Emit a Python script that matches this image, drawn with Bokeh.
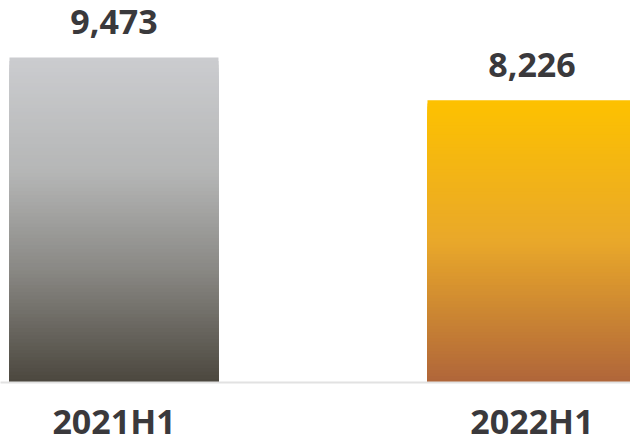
from bokeh.plotting import figure
from bokeh.models import Range1d, FixedTicker, ColumnDataSource
from bokeh.core.properties import value
from bokeh.embed import file_html
from bokeh.resources import INLINE

# ---- data ----
categories = ["2021H1", "2022H1"]
values = [9473, 8226]
value_labels = ["9,473", "8,226"]

# ---- style ----
gradients = [
    [(0.0, (203, 204, 207)), (0.35, (181, 182, 182)), (0.65, (138, 137, 133)), (1.0, (76, 72, 63))],
    [(0.0, (253, 193, 0)), (0.5, (233, 168, 42)), (1.0, (176, 102, 58))],
]
TEXT = "#3a393c"
FONT = "Open Sans"
N = 90
BAR_W = 0.5

def interp(stops, t):
    for (t0, c0), (t1, c1) in zip(stops[:-1], stops[1:]):
        if t0 <= t <= t1:
            f = (t - t0) / (t1 - t0) if t1 > t0 else 0
            return "#%02x%02x%02x" % tuple(round(a + (b - a) * f) for a, b in zip(c0, c1))
    return "#%02x%02x%02x" % stops[-1][1]

xs = list(range(len(categories)))

p = figure(width=630, height=439, output_backend="svg", toolbar_location=None,
           x_range=Range1d(-0.2715, 1.2357), y_range=Range1d(0, 11134),
           min_border_left=0, min_border_right=0, min_border_top=0, min_border_bottom=57,
           outline_line_color=None)
p.frame_height = 382
p.frame_width = 630

# gradient bars: overlapping layers from tallest (top colour) to shortest (bottom colour)
for x, v, stops in zip(xs, values, gradients):
    left, right, top, colors = [], [], [], []
    for i in range(N):
        frac = 1 - i / N
        left.append(x - BAR_W / 2)
        right.append(x + BAR_W / 2)
        top.append(v * frac)
        colors.append(interp(stops, i / (N - 1)))
    src = ColumnDataSource(dict(left=left, right=right, top=top, bottom=[0] * N, color=colors))
    p.quad(left="left", right="right", top="top", bottom="bottom", source=src,
           fill_color="color", line_color=None)

lab = ColumnDataSource(dict(x=xs, y=values, t=value_labels))
p.text(x="x", y="y", text="t", source=lab, text_align="center", text_baseline="alphabetic",
       y_offset=-35, text_font=value(FONT), text_font_style="bold", text_font_size="34px",
       text_color=TEXT)

p.yaxis.visible = False
p.grid.visible = False
ax = p.xaxis[0]
ax.ticker = FixedTicker(ticks=xs)
ax.major_label_overrides = {x: c for x, c in zip(xs, categories)}
ax.major_tick_line_color = None
ax.minor_tick_line_color = None
ax.axis_line_color = "#e2e2e2"
ax.axis_line_width = 2
ax.major_label_text_font = FONT
ax.major_label_text_font_style = "bold"
ax.major_label_text_font_size = "34px"
ax.major_label_text_color = TEXT
ax.major_label_standoff = 9

open("out.html", "w").write(file_html(p, INLINE))
